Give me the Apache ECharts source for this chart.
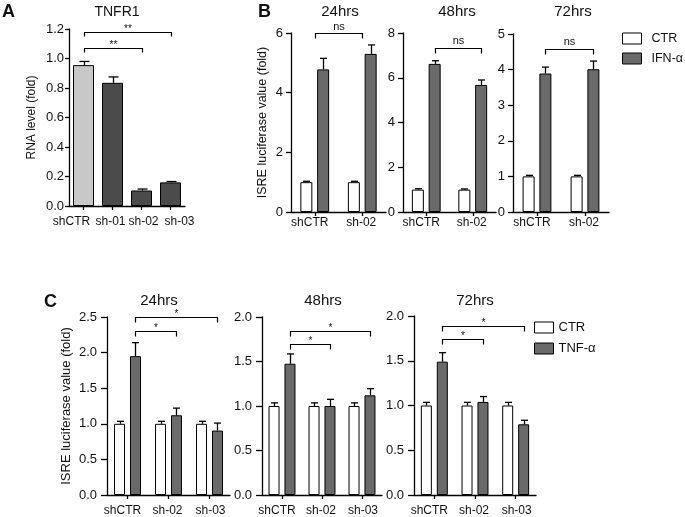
<!DOCTYPE html>
<html>
<head>
<meta charset="utf-8">
<script src="https://cdn.jsdelivr.net/npm/echarts@6/dist/echarts.min.js"></script>
<style>html,body{margin:0;padding:0;background:#fff}#c{width:685px;height:517px}</style>
</head>
<body>
<div id="c"></div>
<script>
// ---------- DATA ----------
const catsA = ['shCTR', 'sh-01', 'sh-02', 'sh-03'];
const rnaA = [0.955, 0.835, 0.105, 0.16];
const rnaErrA = [0.025, 0.04, 0.01, 0.006];
const bracketsA = [[0, 3, 1.18], [0, 2, 1.07]];
const bracketLabelsA = ['**', '**'];

const catsB = ['shCTR', 'sh-02'];
const b24Ctr = [1.0, 1.0], b24CtrErr = [0.03, 0.03];
const b24Ifn = [4.78, 5.30], b24IfnErr = [0.37, 0.30];
const b48Ctr = [1.0, 1.0], b48CtrErr = [0.04, 0.03];
const b48Ifn = [6.62, 5.68], b48IfnErr = [0.14, 0.22];
const b72Ctr = [1.0, 1.0], b72CtrErr = [0.03, 0.03];
const b72Ifn = [3.89, 4.01], b72IfnErr = [0.18, 0.23];
const bracketsB24 = [[0, 1, 6.0]];
const bracketsB48 = [[0, 1, 7.32]];
const bracketsB72 = [[0, 1, 4.57]];
const bracketLabelsB = ['ns'];

const catsC = ['shCTR', 'sh-02', 'sh-03'];
const c24Ctr = [1.0, 1.0, 1.0], c24CtrErr = [0.035, 0.035, 0.035];
const c24Tnf = [1.95, 1.12, 0.905], c24TnfErr = [0.19, 0.10, 0.105];
const c48Ctr = [1.0, 1.0, 1.0], c48CtrErr = [0.035, 0.035, 0.035];
const c48Tnf = [1.475, 1.0, 1.12], c48TnfErr = [0.11, 0.075, 0.075];
const c72Ctr = [1.0, 1.0, 1.0], c72CtrErr = [0.035, 0.035, 0.035];
const c72Tnf = [1.49, 1.04, 0.79], c72TnfErr = [0.10, 0.06, 0.045];
const bracketsC24 = [[0, 2, 2.5], [0, 1, 2.31]];
const bracketsC48 = [[0, 2, 1.846], [0, 1, 1.70]];
const bracketsC72 = [[0, 2, 1.886], [0, 1, 1.74]];
const bracketLabelsC = ['*', '*'];

const yTicksA = [0, 1.2, 0.2];
const yTicksB = [[0, 6, 2], [0, 8, 2], [0, 5, 1]];
const yTicksC = [[0, 2.5, 0.5], [0, 2.0, 0.5], [0, 2.0, 0.5]];

// ---------- STYLE / LAYOUT ----------
const FAM = '"Liberation Sans", Arial, Helvetica, sans-serif';
const INK = '#111';
const GREY = '#6a6a6a';

const grids = [
  {left: 69, top: 29, width: 116, height: 177},   // A
  {left: 291, top: 33, width: 95, height: 179},   // B24
  {left: 403, top: 33, width: 93, height: 179},   // B48
  {left: 513, top: 34, width: 96, height: 178},   // B72
  {left: 107, top: 317, width: 123, height: 179}, // C24
  {left: 262, top: 317, width: 120, height: 179}, // C48
  {left: 414, top: 316, width: 122, height: 180}  // C72
];

// horizontal nudges of x tick labels (px, negative = left), style only
const labelShiftA = [-12, -2, 2, 9];
const labelShiftBC = [-5, -1, 1];

const xAxes = [], yAxes = [], series = [];

function axisStyle() {
  return {
    axisLine: {show: true, lineStyle: {color: '#000', width: 1.3}},
    splitLine: {show: false}
  };
}

function shiftedLabels(shifts, size) {
  const rich = {};
  shifts.forEach((s, i) => {
    rich['s' + i] = {fontFamily: FAM, fontSize: size, color: INK,
      padding: s < 0 ? [0, -2 * s, 0, 0] : [0, 0, 0, 2 * s]};
  });
  return {rich: rich, formatter: (v, i) => '{s' + i + '|' + v + '}'};
}

function addPanel(gi, cats, ticks, decimals, tickLen, labelMargin, xMargin, shifts, yName, nameGap, nameSize) {
  xAxes.push(Object.assign({
    type: 'category', gridIndex: gi, data: cats,
    axisTick: {show: true, alignWithLabel: true, length: 4, lineStyle: {color: '#000', width: 1.3}},
    axisLabel: Object.assign({color: INK, fontFamily: FAM, fontSize: 12, margin: xMargin, interval: 0},
      shiftedLabels(shifts, 12))
  }, axisStyle()));
  yAxes.push(Object.assign({
    type: 'value', gridIndex: gi, min: ticks[0], max: ticks[1], interval: ticks[2],
    axisTick: {show: true, length: tickLen, lineStyle: {color: '#000', width: 1.3}},
    axisLabel: {color: INK, fontFamily: FAM, fontSize: 13, margin: labelMargin,
      formatter: v => v.toFixed(decimals)},
    name: yName || '', nameLocation: 'middle', nameGap: nameGap || 0, nameMoveOverlap: false,
    nameTextStyle: {color: INK, fontFamily: FAM, fontSize: nameSize || 12.5}
  }, axisStyle()));
}

function errSeries(gi, vals, errs, dx, capHalf) {
  return {
    type: 'custom', xAxisIndex: gi, yAxisIndex: gi, z: 5, silent: true,
    data: vals.map((v, i) => [i, v, errs[i]]),
    renderItem: function (params, api) {
      const p0 = api.coord([api.value(0), api.value(1)]);
      const p1 = api.coord([api.value(0), api.value(1) + api.value(2)]);
      const cx = Math.round(p0[0] + dx) + 0.5;
      return {type: 'group', children: [
        {type: 'line', shape: {x1: cx, y1: p0[1], x2: cx, y2: p1[1]}, style: {stroke: '#000', lineWidth: 1.3}},
        {type: 'line', shape: {x1: cx - capHalf, y1: p1[1], x2: cx + capHalf, y2: p1[1]}, style: {stroke: '#000', lineWidth: 1.3}}
      ]};
    }
  };
}

function bracketSeries(gi, brs, labels, dxFrom, dxTo, drop, fs, lift) {
  return {
    type: 'custom', xAxisIndex: gi, yAxisIndex: gi, z: 6, silent: true, clip: false,
    data: brs,
    renderItem: function (params, api) {
      const a = api.coord([api.value(0), api.value(2)]);
      const b = api.coord([api.value(1), api.value(2)]);
      const x1 = Math.round(a[0] + dxFrom) + 0.5, x2 = Math.round(b[0] + dxTo) + 0.5;
      const y = Math.round(a[1]) + 0.5;
      return {type: 'group', children: [
        {type: 'polyline', shape: {points: [[x1, y + drop], [x1, y], [x2, y], [x2, y + drop]]},
          style: {stroke: '#000', lineWidth: 1.2, fill: null}},
        {type: 'text', x: (x1 + x2) / 2, y: y - lift,
          style: {text: labels[params.dataIndex], fill: INK, font: fs + 'px ' + FAM,
            textAlign: 'center', textVerticalAlign: 'middle'}}
      ]};
    }
  };
}

// Panel A
addPanel(0, catsA, yTicksA, 1, 4, 5, 10, labelShiftA, 'RNA level (fold)', 31, 12);
series.push({
  type: 'bar', xAxisIndex: 0, yAxisIndex: 0, barWidth: 21,
  data: rnaA.map((v, i) => ({value: v, itemStyle: {color: i === 0 ? '#c8c8c8' : '#4b4b4b'}})),
  itemStyle: {borderColor: '#000', borderWidth: 1}
});
series.push(errSeries(0, rnaA, rnaErrA, 0, 5));
series.push(bracketSeries(0, bracketsA, bracketLabelsA, 0, 0, 4, 10, 3));

// Panel B
const bSets = [
  [b24Ctr, b24CtrErr, b24Ifn, b24IfnErr, bracketsB24, 'mid', 7],
  [b48Ctr, b48CtrErr, b48Ifn, b48IfnErr, bracketsB48, 'treated', 8],
  [b72Ctr, b72CtrErr, b72Ifn, b72IfnErr, bracketsB72, 'treated', 8]
];
const BW_B = 12, GAP_B = 0.4;
const offB = (BW_B + BW_B * GAP_B) / 2;
bSets.forEach((s, k) => {
  const gi = 1 + k;
  addPanel(gi, catsB, yTicksB[k], 0, 5, 8, 5, labelShiftBC, k === 0 ? 'ISRE luciferase value (fold)' : '', 22, 12.5);
  series.push({type: 'bar', name: 'CTR', xAxisIndex: gi, yAxisIndex: gi, barWidth: BW_B, barGap: (GAP_B * 100) + '%',
    data: s[0], itemStyle: {color: '#fff', borderColor: '#000', borderWidth: 1}});
  series.push({type: 'bar', name: 'IFN-α', xAxisIndex: gi, yAxisIndex: gi, barWidth: BW_B, barGap: (GAP_B * 100) + '%',
    data: s[2], itemStyle: {color: GREY, borderColor: '#000', borderWidth: 1}});
  series.push(errSeries(gi, s[0], s[1], -offB, 3.5));
  series.push(errSeries(gi, s[2], s[3], offB, 3.5));
  const dx = s[5] === 'mid' ? 0 : offB;
  series.push(bracketSeries(gi, s[4], bracketLabelsB, dx, dx, 5, 11, s[6]));
});

// Panel C
const cSets = [
  [c24Ctr, c24CtrErr, c24Tnf, c24TnfErr, bracketsC24],
  [c48Ctr, c48CtrErr, c48Tnf, c48TnfErr, bracketsC48],
  [c72Ctr, c72CtrErr, c72Tnf, c72TnfErr, bracketsC72]
];
const BW_C = 11, GAP_C = 0.45;
const offC = (BW_C + BW_C * GAP_C) / 2;
cSets.forEach((s, k) => {
  const gi = 4 + k;
  addPanel(gi, catsC, yTicksC[k], 1, 6, 10, 10, labelShiftBC, k === 0 ? 'ISRE luciferase value (fold)' : '', 34, 13);
  series.push({type: 'bar', name: 'CTR', xAxisIndex: gi, yAxisIndex: gi, barWidth: BW_C, barGap: (GAP_C * 100) + '%',
    data: s[0], itemStyle: {color: '#fff', borderColor: '#000', borderWidth: 1}});
  series.push({type: 'bar', name: 'TNF-α', xAxisIndex: gi, yAxisIndex: gi, barWidth: BW_C, barGap: (GAP_C * 100) + '%',
    data: s[2], itemStyle: {color: GREY, borderColor: '#000', borderWidth: 1}});
  series.push(errSeries(gi, s[0], s[1], -offC, 3.5));
  series.push(errSeries(gi, s[2], s[3], offC, 3.5));
  series.push(bracketSeries(gi, s[4], bracketLabelsC, offC, offC, 5, 10, 3));
});

function txt(str, x, y, size, bold) {
  return {type: 'text', x: x, y: y, silent: true,
    style: {text: str, fill: INK, font: (bold ? 'bold ' : '') + size + 'px ' + FAM,
      textAlign: bold ? 'left' : 'center', textVerticalAlign: 'middle'}};
}

const legendBase = {
  orient: 'vertical', itemWidth: 19, itemHeight: 11, itemGap: 7, icon: 'rect',
  selectedMode: false, padding: 0,
  textStyle: {color: INK, fontFamily: FAM, fontSize: 13},
  itemStyle: {borderColor: '#000', borderWidth: 1}
};

const option = {
  animation: false,
  backgroundColor: '#fff',
  grid: grids.map(g => Object.assign({containLabel: false}, g)),
  xAxis: xAxes,
  yAxis: yAxes,
  legend: [
    Object.assign({}, legendBase, {left: 622, top: 32, data: ['CTR', 'IFN-α'],
      textStyle: Object.assign({}, legendBase.textStyle, {fontSize: 12.5, padding: [0, 0, 0, 5]})}),
    Object.assign({}, legendBase, {left: 534, top: 321, itemGap: 8, data: ['CTR', 'TNF-α']})
  ],
  series: series,
  graphic: [
    txt('A', 2, 12, 18, true),
    txt('B', 258, 12, 18, true),
    txt('C', 44, 302, 18, true),
    txt('TNFR1', 117, 12, 14),
    txt('24hrs', 340, 12, 15),
    txt('48hrs', 457, 12, 15),
    txt('72hrs', 573, 12, 15),
    txt('24hrs', 159, 301, 15),
    txt('48hrs', 323, 301, 15),
    txt('72hrs', 475, 301, 15)
  ]
};

const chart = echarts.init(document.getElementById('c'), null, {renderer: 'canvas'});
chart.setOption(option);
</script>
</body>
</html>
